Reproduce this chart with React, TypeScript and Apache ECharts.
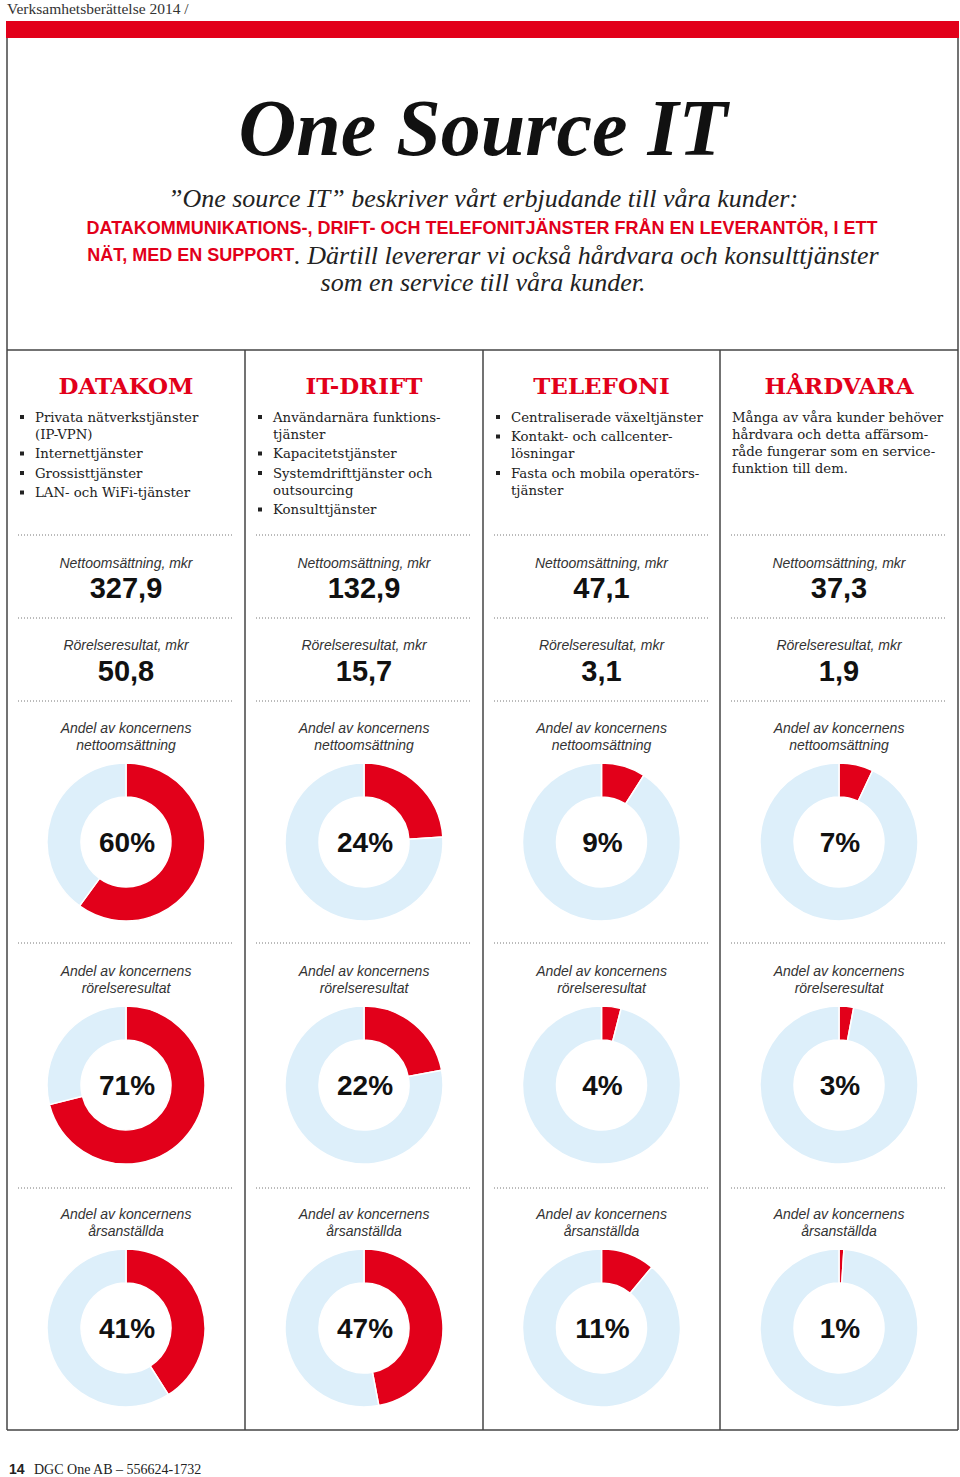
import React, { useEffect, useRef } from "react";
import * as echarts from "echarts";

const segments = ["DATAKOM", "IT-DRIFT", "TELEFONI", "HÅRDVARA"];
const bulletItems: string[][] = [
  ["Privata nätverkstjänster\n(IP-VPN)", "Internettjänster", "Grossisttjänster", "LAN- och WiFi-tjänster"],
  ["Användarnära funktions-\ntjänster", "Kapacitetstjänster", "Systemdrifttjänster och\noutsourcing", "Konsulttjänster"],
  ["Centraliserade växeltjänster", "Kontakt- och callcenter-\nlösningar", "Fasta och mobila operatörs-\ntjänster"],
  [],
];
const hardwareText = ["Många av våra kunder behöver", "hårdvara och detta affärsom-", "råde fungerar som en service-", "funktion till dem."];
const netSales = [327.9, 132.9, 47.1, 37.3];
const opResult = [50.8, 15.7, 3.1, 1.9];
const shareSales = [60, 24, 9, 7];
const shareResult = [71, 22, 4, 3];
const shareEmployees = [41, 47, 11, 1];
const donutTitles = [
  ["Andel av koncernens", "nettoomsättning"],
  ["Andel av koncernens", "rörelseresultat"],
  ["Andel av koncernens", "årsanställda"],
];

const RED = "#E2001A";
const BLUE = "#DDEFFA";
const LINE = "#444";
const SERIF = "'DejaVu Serif', serif";
const TSERIF = "'Liberation Serif', serif";
const SANS = "'Liberation Sans', Arial, sans-serif";

const fmt = (v: number) => v.toFixed(1).replace(".", ",");

function txt(x: number, y: number, text: string, o: any = {}) {
  const align = o.align || "left";
  return {
    type: "text",
    x,
    y,
    silent: true,
    style: {
      text,
      fill: o.fill || "#222",
      fontSize: o.size || 14,
      fontFamily: o.family || SANS,
      fontWeight: o.weight || "normal",
      fontStyle: o.style || "normal",
      align,
      textAlign: align,
      verticalAlign: "middle",
      textVerticalAlign: "middle",
      rich: o.rich,
    },
  };
}
function ln(x1: number, y1: number, x2: number, y2: number, o: any = {}) {
  return {
    type: "line",
    silent: true,
    shape: { x1, y1, x2, y2 },
    style: { stroke: o.stroke || LINE, lineWidth: o.w || 1.5, lineDash: o.dash },
  };
}

export default function App() {
  const ref = useRef<HTMLDivElement>(null);
  useEffect(() => {
    if (!ref.current) return;
    const chart = echarts.init(ref.current, null, { renderer: "svg" });
    const colL = [7, 245, 483, 720, 958];
    const colC = [0, 1, 2, 3].map((i) => (colL[i] + colL[i + 1]) / 2);
    const els: any[] = [];

    // header
    els.push(txt(7, 8, "Verksamhetsberättelse 2014 /", { family: TSERIF, size: 15.5, fill: "#333" }));
    els.push({ type: "rect", silent: true, shape: { x: 6, y: 21, width: 953, height: 17 }, style: { fill: RED } });
    // box
    els.push(ln(7, 38, 7, 1430));
    els.push(ln(958, 38, 958, 1430));
    els.push(ln(7, 350, 958, 350));
    els.push(ln(7, 1430, 958, 1430));
    [245, 483, 720].forEach((x) => els.push(ln(x, 350, x, 1430)));

    // title
    els.push(txt(483, 128, "One Source IT", { family: TSERIF, size: 80, weight: "bold", style: "italic", fill: "#111", align: "center" }));
    els.push(txt(483, 198, "”One source IT” beskriver vårt erbjudande till våra kunder:", { family: TSERIF, size: 26, style: "italic", fill: "#222", align: "center" }));
    els.push(txt(482, 228, "DATAKOMMUNIKATIONS-, DRIFT- OCH TELEFONITJÄNSTER FRÅN EN LEVERANTÖR, I ETT", { family: SANS, size: 18, weight: "bold", fill: RED, align: "center" }));
    els.push(
      txt(483, 255, "{r|NÄT, MED EN SUPPORT}{b|. Därtill levererar vi också hårdvara och konsulttjänster}", {
        align: "center",
        rich: {
          r: { fontFamily: SANS, fontSize: 18, fontWeight: "bold", fill: RED, color: RED },
          b: { fontFamily: TSERIF, fontSize: 26, fontStyle: "italic", fill: "#222", color: "#222" },
        },
      })
    );
    els.push(txt(483, 282, "som en service till våra kunder.", { family: TSERIF, size: 26, style: "italic", fill: "#222", align: "center" }));

    const series: any[] = [];
    const shares = [shareSales, shareResult, shareEmployees];
    const donutY = [842, 1085, 1328];
    const donutTitleY = [728, 971, 1214];

    segments.forEach((name, i) => {
      const l = colL[i];
      const cx = colC[i];
      els.push(txt(cx, 385, name, { family: SERIF, size: 23, weight: "bold", fill: RED, align: "center" }));
      let y = 417;
      bulletItems[i].forEach((item) => {
        els.push({ type: "rect", silent: true, shape: { x: l + 13, y: y - 2, width: 4, height: 4 }, style: { fill: "#222" } });
        item.split("\n").forEach((line) => {
          els.push(txt(l + 28, y, line, { family: SERIF, size: 13.3, fill: "#222" }));
          y += 17;
        });
        y += 2.5;
      });
      if (i === 3) {
        hardwareText.forEach((line, k) => els.push(txt(l + 12, 417 + k * 17, line, { family: SERIF, size: 13.3, fill: "#222" })));
      }
      [535, 618, 701, 943, 1188].forEach((dy) =>
        els.push(ln(l + 11, dy, colL[i + 1] - 12, dy, { stroke: "#777", w: 1, dash: [1, 2] }))
      );
      els.push(txt(cx, 563, "Nettoomsättning, mkr", { size: 14, style: "italic", fill: "#333", align: "center" }));
      els.push(txt(cx, 588, fmt(netSales[i]), { size: 29, weight: "bold", fill: "#111", align: "center" }));
      els.push(txt(cx, 645, "Rörelseresultat, mkr", { size: 14, style: "italic", fill: "#333", align: "center" }));
      els.push(txt(cx, 671, fmt(opResult[i]), { size: 29, weight: "bold", fill: "#111", align: "center" }));

      shares.forEach((arr, r) => {
        donutTitles[r].forEach((t, k) =>
          els.push(txt(cx, donutTitleY[r] + k * 17, t, { size: 14, style: "italic", fill: "#333", align: "center" }))
        );
        const p = arr[i];
        series.push({
          type: "pie",
          center: [cx, donutY[r]],
          radius: [45, 79],
          startAngle: 90,
          clockwise: true,
          silent: true,
          label: { show: false },
          labelLine: { show: false },
          emphasis: { disabled: true },
          itemStyle: { borderColor: "#fff", borderWidth: 1.5 },
          data: [
            { value: p, name: name + " andel", itemStyle: { color: RED } },
            { value: 100 - p, name: "övriga", itemStyle: { color: BLUE } },
          ],
        });
        els.push(txt(cx + 1, donutY[r], p + "%", { size: 28, weight: "bold", fill: "#111", align: "center" }));
      });
    });

    // footer
    els.push(txt(9, 1469, "14", { size: 14, weight: "bold", fill: "#222" }));
    els.push(txt(34, 1469, "DGC One AB – 556624-1732", { family: TSERIF, size: 14, fill: "#222" }));

    chart.setOption({
      animation: false,
      backgroundColor: "#fff",
      series,
      graphic: { elements: els },
    });
    return () => chart.dispose();
  }, []);
  return <div ref={ref} style={{ position: "absolute", left: 0, top: 0, width: 960, height: 1477 }} />;
}
